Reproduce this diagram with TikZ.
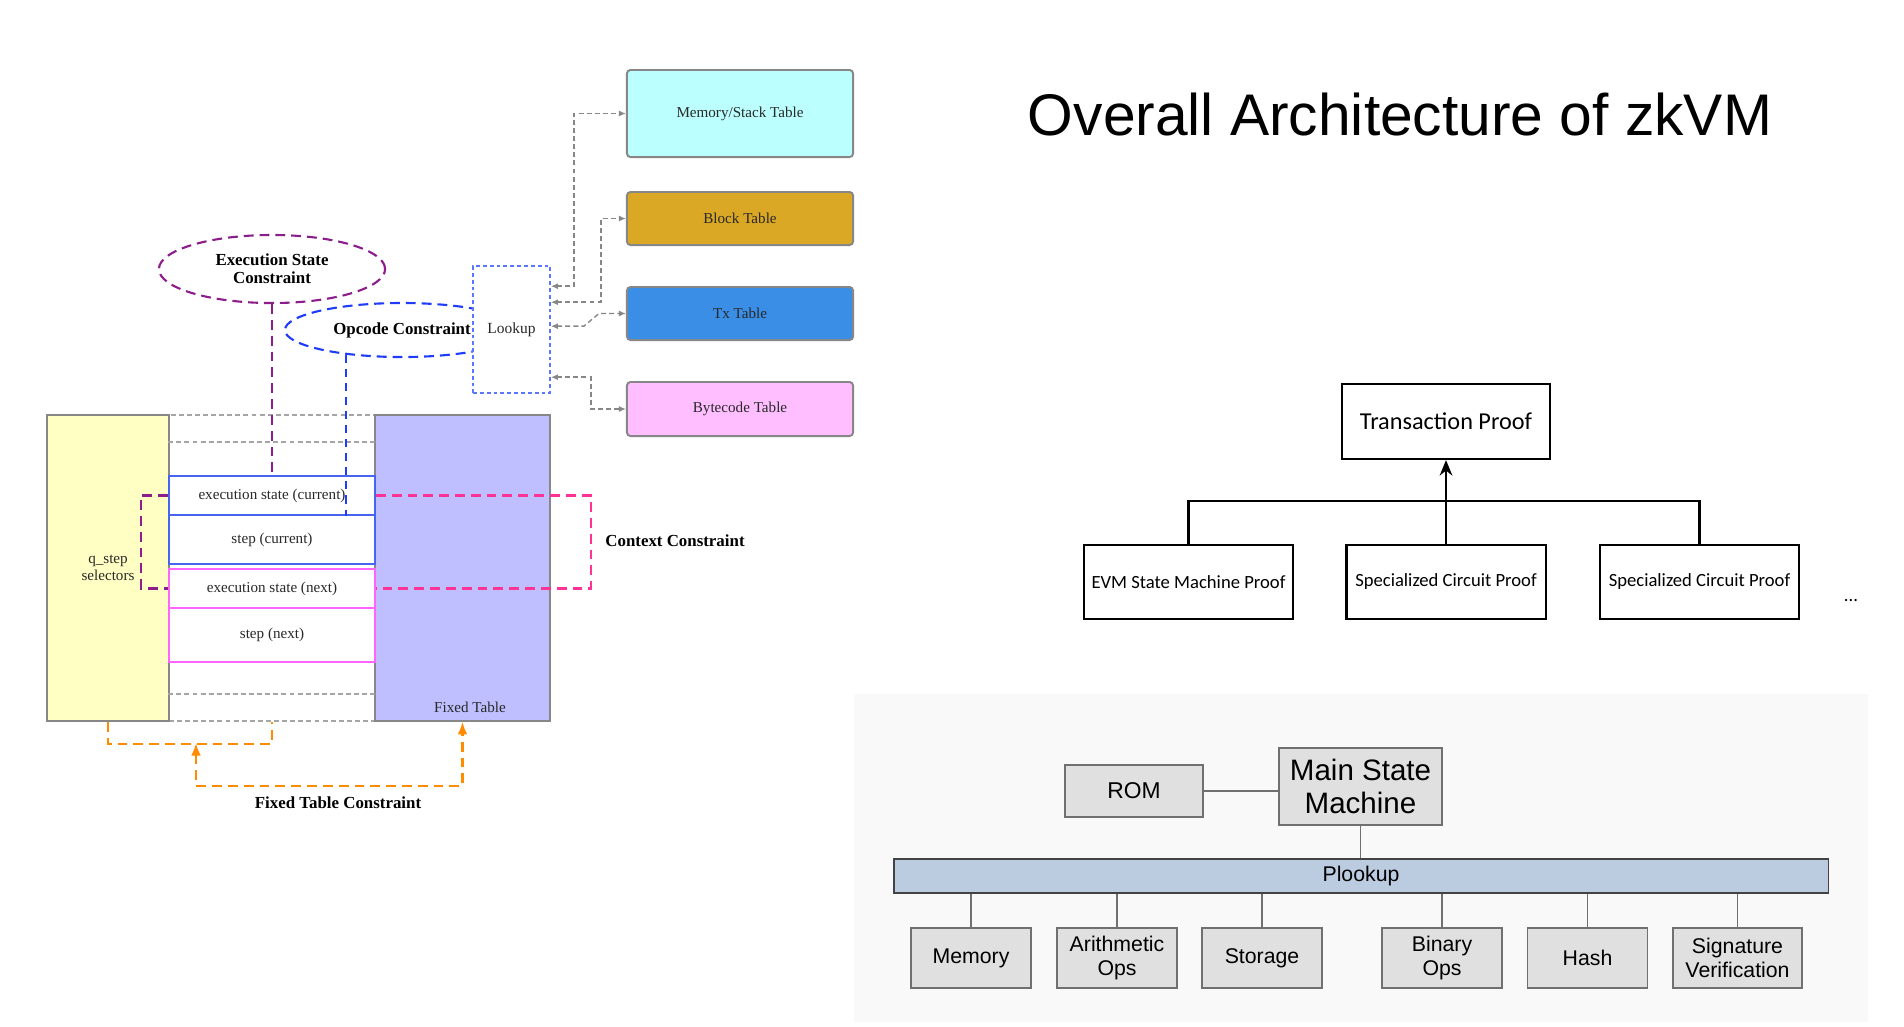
\documentclass[tikz,border=0pt]{standalone}
\usepackage{fontspec}
\usepackage{tikz}
\usetikzlibrary{
  arrows.meta,
  positioning,
  calc,
  shapes.geometric
}
\setmainfont{Liberation Serif}
\newfontfamily\archfont{Liberation Sans}
\newfontfamily\prooffont{Carlito}
\definecolor{SelYellow}{RGB}{255,255,196}
\definecolor{FixedViolet}{RGB}{191,191,255}
\definecolor{MemCyan}{RGB}{187,255,255}
\definecolor{BlockGold}{RGB}{218,168,37}
\definecolor{TxBlue}{RGB}{58,142,230}
\definecolor{CodePink}{RGB}{255,190,255}
\definecolor{StatePurple}{RGB}{140,30,140}
\definecolor{OpBlue}{RGB}{30,60,250}
\definecolor{LookBlue}{RGB}{90,120,255}
\definecolor{CurBlue}{RGB}{70,100,240}
\definecolor{NextMagenta}{RGB}{255,100,255}
\definecolor{CtxPink}{RGB}{255,50,150}
\definecolor{FixOrange}{RGB}{255,140,0}
\definecolor{TableGray}{RGB}{135,135,135}
\definecolor{PanelGray}{RGB}{249,249,249}
\definecolor{BoxGray}{RGB}{224,224,224}
\definecolor{EdgeGray}{RGB}{112,112,112}
\definecolor{PlookBlue}{RGB}{187,204,224}
\definecolor{InkGray}{RGB}{40,40,40}
\tikzset{
  serifsmall/.style={font=\fontsize{4.3}{4.9}\selectfont,text=InkGray},
  serifbold/.style={font=\bfseries\fontsize{4.8}{5.2}\selectfont},
  colbox/.style={draw=TableGray,line width=0.4pt,inner sep=0pt,minimum height=3.06cm},
  rowcur/.style={draw=CurBlue,fill=white,line width=0.45pt,inner sep=0pt,minimum width=2.06cm,serifsmall},
  rownext/.style={draw=NextMagenta,fill=white,line width=0.45pt,inner sep=0pt,minimum width=2.06cm,serifsmall},
  cellsep/.style={draw=TableGray!75,line width=0.35pt,dash pattern=on 1.4pt off 0.9pt},
  stateellipse/.style={ellipse,draw=StatePurple,line width=0.6pt,dash pattern=on 2.8pt off 1.7pt,inner sep=0pt,align=center,serifbold},
  opellipse/.style={ellipse,draw=OpBlue,line width=0.6pt,dash pattern=on 2.8pt off 1.7pt,inner sep=0pt,serifbold},
  lookupbox/.style={draw=LookBlue,fill=white,line width=0.45pt,dash pattern=on 1.1pt off 0.85pt,inner sep=0pt,minimum width=0.77cm,minimum height=1.27cm,font=\fontsize{4.4}{5}\selectfont,text=InkGray},
  tablebox/.style={draw=TableGray,line width=0.55pt,rounded corners=1pt,inner sep=0pt,minimum width=2.26cm,serifsmall},
  lookarrow/.style={{Latex[length=2pt,width=1.7pt]}-{Latex[length=2pt,width=1.7pt]},draw=TableGray,line width=0.4pt,dash pattern=on 1.4pt off 0.9pt},
  statelink/.style={draw=StatePurple,line width=0.6pt,dash pattern=on 2.8pt off 1.7pt},
  oplink/.style={draw=OpBlue,line width=0.6pt,dash pattern=on 2.3pt off 1.7pt},
  ctxlink/.style={draw=CtxPink,line width=0.6pt,dash pattern=on 2.8pt off 1.7pt},
  fixlink/.style={draw=FixOrange,line width=0.6pt,dash pattern=on 2.8pt off 1.7pt},
  fixarrow/.style={{Latex[length=3.6pt,width=2.8pt]}-{Latex[length=3.6pt,width=2.8pt]},fixlink},
  proofbox/.style={draw=black,line width=0.6pt,inner sep=0pt,minimum height=0.74cm,font=\prooffont\fontsize{5.3}{6}\selectfont},
  prooflink/.style={draw=black,line width=0.6pt},
  smbox/.style={draw=EdgeGray,fill=BoxGray,line width=0.45pt,inner sep=0pt,align=center,minimum width=1.2cm,minimum height=0.6cm,font=\archfont\fontsize{6.05}{6.8}\selectfont},
  busline/.style={draw=EdgeGray,line width=0.4pt}
}

\begin{document}
\begin{tikzpicture}[x=0.01cm,y=-0.01cm]
\useasboundingbox (0,0) rectangle (1904,1026);
\fill[white] (0,0) rectangle (1904,1026);

\node[colbox,draw=TableGray!75,dash pattern=on 1.4pt off 0.9pt,minimum width=2.06cm] (midcol) at (272,568) {};
\node[colbox,fill=SelYellow,minimum width=1.22cm,align=center,serifsmall] (qsel) at (108,568) {q\_step\\selectors};
\node[colbox,fill=FixedViolet,minimum width=1.75cm] (fixed) at (462.5,568) {};
\node[serifsmall] (fixedlbl) at (470,707) {Fixed Table};
\draw[cellsep] (midcol.west |- 0,442) -- (midcol.east |- 0,442);
\draw[cellsep] (midcol.west |- 0,694) -- (midcol.east |- 0,694);

\node[rowcur,minimum height=0.39cm] (execcur) at (272,495.5) {execution state (current)};
\node[rowcur,minimum height=0.49cm] (stepcur) at (272,539.5) {step (current)};
\node[rownext,minimum height=0.39cm] (execnext) at (272,588.5) {execution state (next)};
\node[rownext,minimum height=0.54cm] (stepnext) at (272,635) {step (next)};

\draw[statelink] (execcur.west) -- ++(-27,0) |- (execnext.west);
\draw[ctxlink] (execcur.east) -- ++(215,0) |- (execnext.east);
\node[serifbold] (ctxlbl) at (675,541) {Context Constraint};

\node[stateellipse,minimum width=2.26cm,minimum height=0.68cm] (esc) at (272,269) {Execution State\\Constraint};
\draw[statelink] (esc.south) -- (execcur.north);
\node[opellipse,minimum width=2.34cm,minimum height=0.54cm] (opc) at (402,330) {Opcode Constraint};
\draw[oplink] (opc.204) -- (opc.204 |- execcur.south);
\node[lookupbox] (lookup) at (511.5,329.5) {Lookup};

\node[tablebox,fill=MemCyan,minimum height=0.87cm] (memtab) at (740,113.5) {Memory/Stack Table};
\node[tablebox,fill=BlockGold,minimum height=0.53cm] (blocktab) at (740,218.5) {Block Table};
\node[tablebox,fill=TxBlue,minimum height=0.53cm] (txtab) at (740,313.5) {Tx Table};
\node[tablebox,fill=CodePink,minimum height=0.54cm] (bytetab) at (740,409) {Bytecode Table};

\draw[lookarrow] ($(lookup.north east)+(0,21)$) -- ++(23,0) |- (memtab.west);
\draw[lookarrow] ($(lookup.north east)+(0,37)$) -- ++(50,0) |- (blocktab.west);
\draw[lookarrow] ($(lookup.north east)+(0,61)$) -- ++(33,0) -- ($(txtab.west)+(-27,0)$) -- (txtab.west);
\draw[lookarrow] ($(lookup.north east)+(0,112)$) -- ++(40,0) |- (bytetab.west);

\coordinate (fixjoin) at (196,743);
\draw[fixlink] (qsel.south) -- ++(0,22) -| (midcol.south);
\draw[fixarrow] (fixjoin) -- ++(0,43) -| (fixed.south);
\node[serifbold] (fixlbl) at (338,803) {Fixed Table Constraint};

\node[anchor=base,font=\archfont\fontsize{16.7}{20}\selectfont] (title) at (1400,135) {Overall Architecture of zkVM};

\node[proofbox,minimum width=2.08cm,minimum height=0.75cm,font=\prooffont\fontsize{6.9}{8}\selectfont] (txproof) at (1446,421.5) {Transaction Proof};
\node[proofbox,minimum width=2.09cm] (evm) at (1188.5,582) {EVM State Machine Proof};
\node[proofbox,minimum width=1.99cm] (spec1) at (1446,582) {Specialized Circuit Proof};
\node[proofbox,minimum width=1.99cm] (spec2) at (1699.5,582) {Specialized Circuit Proof};
\node[anchor=base,font=\prooffont\fontsize{5.3}{6}\selectfont] (moredots) at (1851,601) {...};
\draw[prooflink] (evm.north) -- ++(0,-43) -| (spec2.north);
\draw[prooflink,-{Stealth[length=4.4pt,width=3.6pt]}] (spec1.north) -- (txproof.south);

\fill[PanelGray] (854,694) rectangle (1868,1022);
\node[smbox,minimum width=1.38cm,minimum height=0.52cm,font=\archfont\fontsize{6.5}{7.5}\selectfont] (rom) at (1134,791) {ROM};
\node[smbox,minimum width=1.63cm,minimum height=0.77cm,font=\archfont\fontsize{8.4}{9.4}\selectfont] (msm) at (1360.5,786.5) {Main State\\Machine};
\node[smbox,fill=PlookBlue,draw=EdgeGray!60!black,minimum width=9.34cm,minimum height=0.34cm] (plookup) at (1361,876) {Plookup};
\draw[busline] (rom.east) -- (rom.east -| msm.west);
\draw[busline] (msm.south) -- (msm.south |- plookup.north);

\node[smbox] (mem) at (971,958) {Memory};
\node[smbox] (arith) at (1117,958) {Arithmetic\\Ops};
\node[smbox] (stor) at (1262,958) {Storage};
\node[smbox] (bin) at (1442,958) {Binary\\Ops};
\node[smbox] (hash) at (1587.5,958) {Hash};
\node[smbox,minimum width=1.29cm] (sig) at (1737.5,958) {Signature\\Verification};
\draw[busline] (mem.north) -- (mem.north |- plookup.south);
\draw[busline] (arith.north) -- (arith.north |- plookup.south);
\draw[busline] (stor.north) -- (stor.north |- plookup.south);
\draw[busline] (bin.north) -- (bin.north |- plookup.south);
\draw[busline] (hash.north) -- (hash.north |- plookup.south);
\draw[busline] (sig.north) -- (sig.north |- plookup.south);
\end{tikzpicture}
\end{document}
